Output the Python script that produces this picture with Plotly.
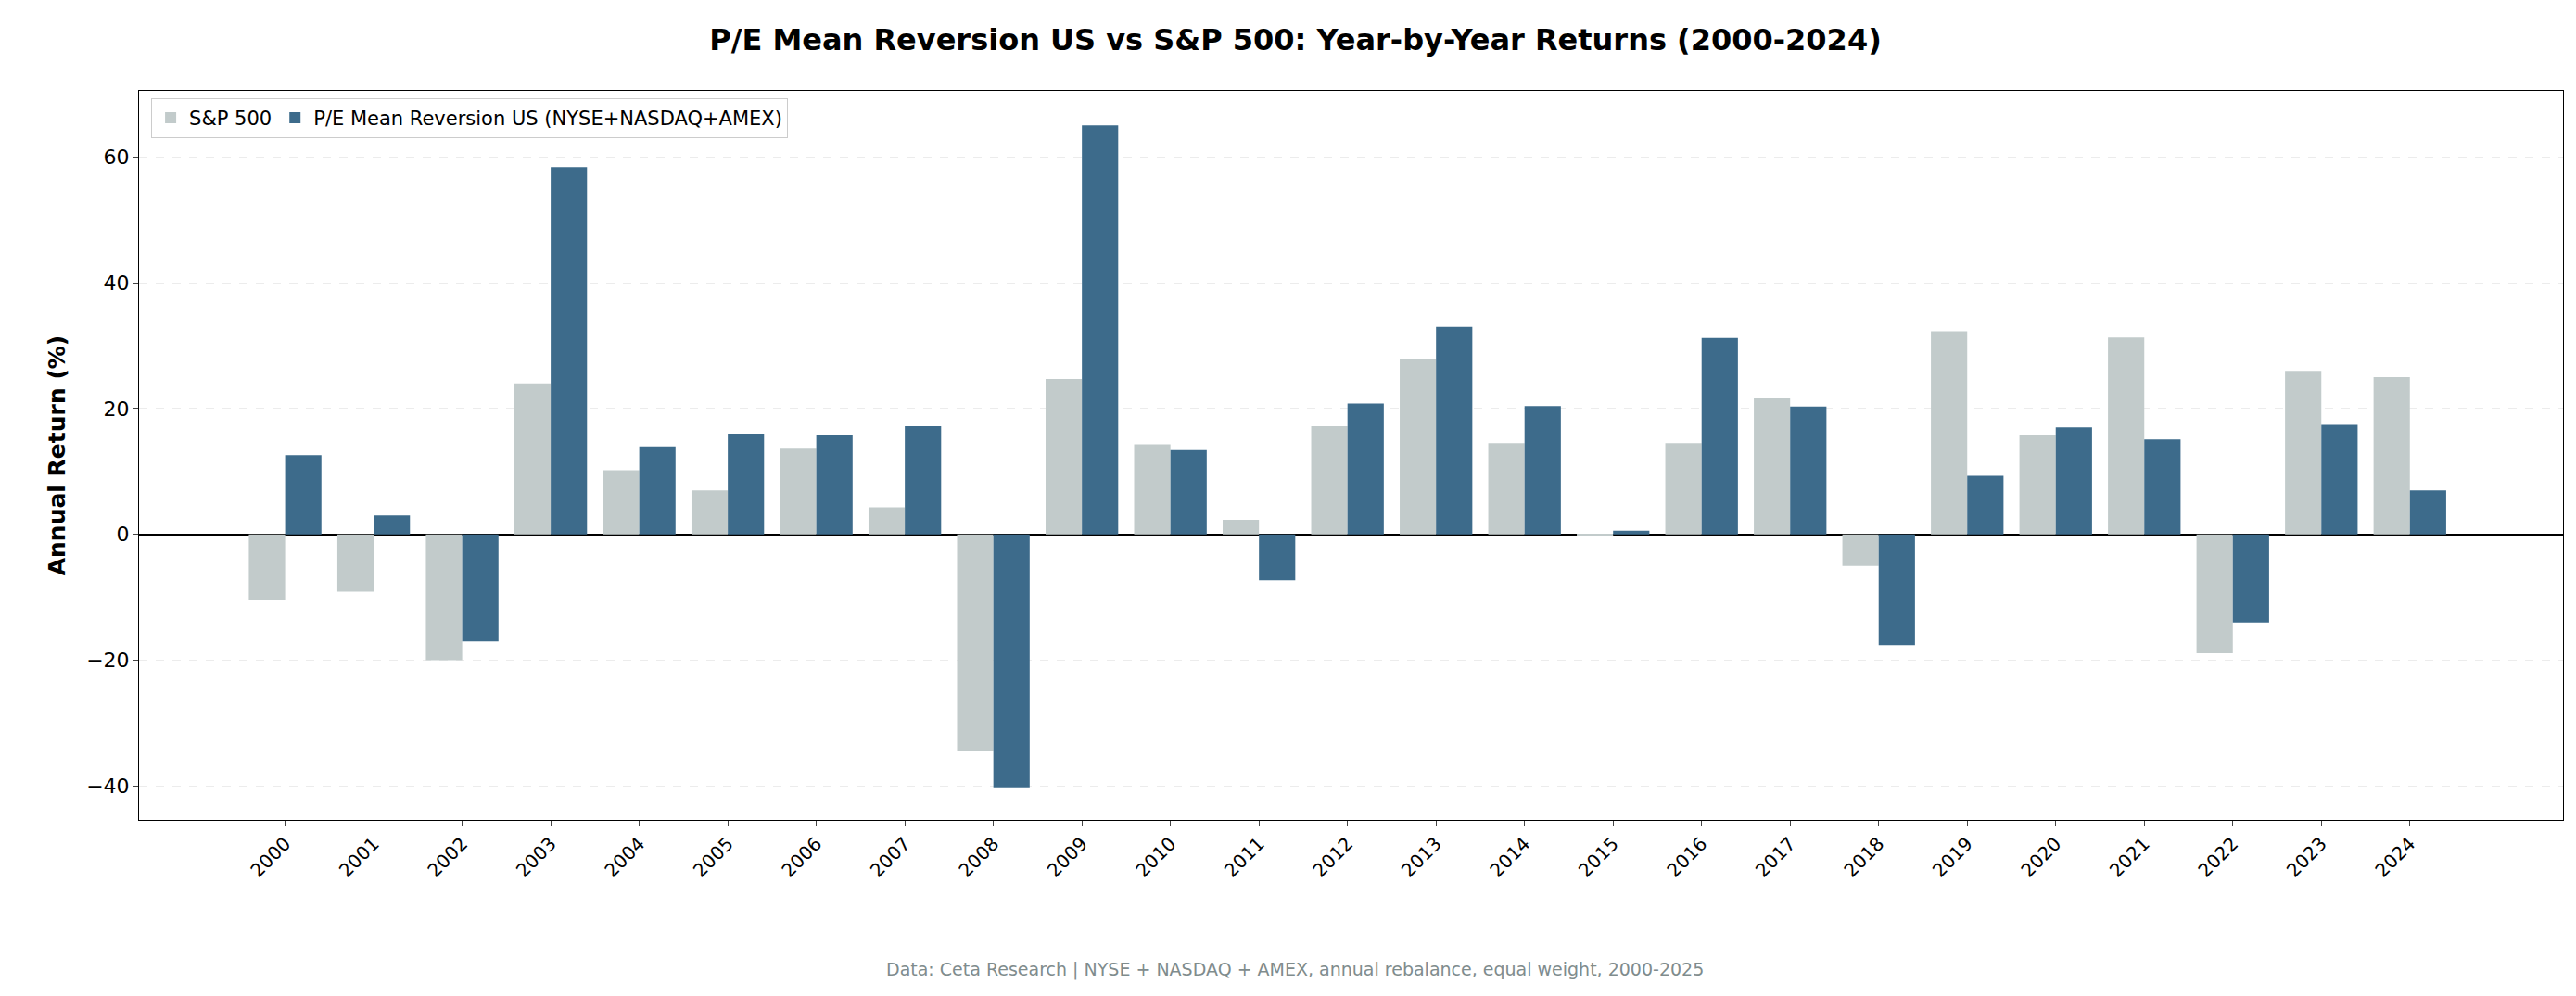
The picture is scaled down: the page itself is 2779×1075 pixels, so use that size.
import plotly.graph_objects as go

years = list(range(2000, 2025))
sp500 = [-10.5, -9.1, -20.0, 24.0, 10.2, 7.0, 13.6, 4.3, -34.5, 24.7, 14.3, 2.3, 17.2,
         27.8, 14.5, -0.2, 14.5, 21.6, -5.0, 32.3, 15.7, 31.3, -18.9, 26.0, 25.0]
strategy = [12.6, 3.0, -17.0, 58.4, 14.0, 16.0, 15.8, 17.2, -40.2, 65.0, 13.4, -7.3, 20.8,
            33.0, 20.4, 0.6, 31.2, 20.3, -17.6, 9.3, 17.0, 15.1, -14.0, 17.4, 7.0]

fig = go.Figure()
fig.add_trace(go.Bar(x=years, y=sp500, name='S&P 500', marker_color='#c2cbcb',
                     marker_line_width=0))
fig.add_trace(go.Bar(x=years, y=strategy, name='P/E Mean Reversion US (NYSE+NASDAQ+AMEX)',
                     marker_color='#3d6b8b', marker_line_width=0))

fig.update_layout(
    width=2779, height=1075,
    barmode='group', bargap=0.18, bargroupgap=0,
    plot_bgcolor='white', paper_bgcolor='white',
    font=dict(family='DejaVu Sans', size=20, color='black'),
    title=dict(text='<b>P/E Mean Reversion US vs S&P 500: Year-by-Year Returns (2000-2024)</b>',
               x=0.5, xanchor='center', y=0.968, yanchor='middle', font=dict(size=32)),
    margin=dict(l=142, r=22, t=90, b=198),
    legend=dict(x=0.005, y=0.99, xanchor='left', yanchor='top', orientation='h',
                bordercolor='#cccccc', borderwidth=1, font=dict(size=21),
                bgcolor='rgba(255,255,255,0.8)'),
    xaxis=dict(range=[1998.35, 2025.73], tickmode='array', tickvals=years,
               ticktext=[str(y) for y in years], tickangle=-45, ticks='outside',
               showline=True, linecolor='black', mirror=True, showgrid=False,
               tickfont=dict(size=20)),
    yaxis=dict(range=[-45.4, 70.5], tickvals=[-40, -20, 0, 20, 40, 60],
               ticktext=['\u221240', '\u221220', '0', '20', '40', '60'],
               ticks='outside', showline=True, linecolor='black', mirror=True,
               showgrid=True, gridcolor='#ececec', griddash='dash',
               zeroline=True, zerolinecolor='black', zerolinewidth=1.5,
               title=dict(text='<b>Annual Return (%)</b>', font=dict(size=25)),
               tickfont=dict(size=22)),
    annotations=[dict(text='Data: Ceta Research | NYSE + NASDAQ + AMEX, annual rebalance, equal weight, 2000-2025',
                      x=0.477, xref='paper', y=-(1038 - 877) / (877 - 90), yref='paper',
                      yanchor='middle', showarrow=False,
                      font=dict(size=19, color='#7f8c8d'))],
)

fig.write_html("out.html")
